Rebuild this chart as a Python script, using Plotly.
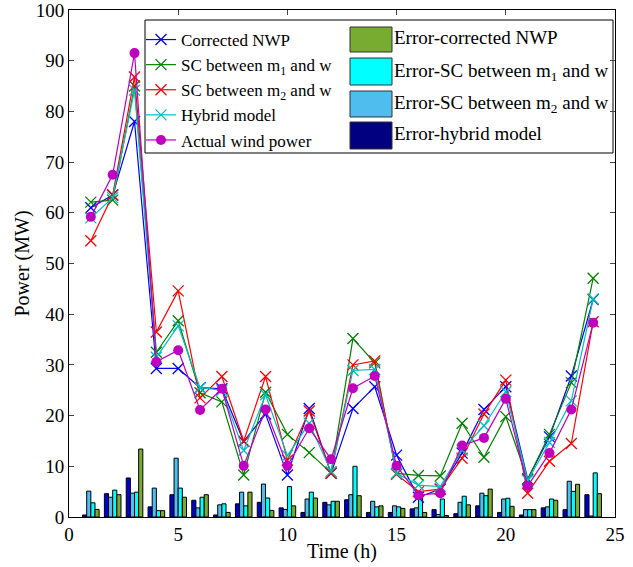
import plotly.graph_objects as go

# Hourly time axis (h)
hours = list(range(1, 25))

# Forecast curves (MW)
corrected_nwp = [61.0, 63.5, 78.0, 29.3, 29.3, 25.5, 25.3, 14.9, 20.3, 8.3, 21.4, 8.6,
                 21.4, 25.7, 12.2, 3.9, 5.5, 12.6, 21.2, 25.7, 7.5, 15.8, 27.8, 42.9]
sc_m1 = [62.1, 62.5, 85.0, 32.5, 38.7, 24.5, 22.7, 8.3, 24.6, 16.3, 12.7, 8.7,
         35.2, 30.4, 8.6, 8.2, 8.1, 18.5, 11.8, 19.8, 7.4, 16.3, 26.5, 47.1]
sc_m2 = [54.5, 63.5, 86.8, 36.5, 44.6, 23.5, 27.7, 15.0, 27.7, 11.2, 20.9, 8.6,
         30.0, 30.8, 8.4, 5.0, 5.5, 11.6, 20.3, 27.0, 4.7, 11.0, 14.5, 38.5]
hybrid = [59.0, 63.0, 84.2, 31.5, 37.7, 25.5, 25.0, 13.1, 24.1, 12.1, 18.5, 9.0,
          28.9, 29.1, 8.6, 6.3, 6.0, 13.2, 18.0, 24.7, 7.2, 14.7, 22.9, 43.0]
actual = [59.2, 67.5, 91.5, 30.6, 32.9, 21.1, 25.3, 10.1, 21.2, 10.1, 17.5, 11.4,
          25.4, 27.8, 10.1, 4.3, 4.7, 14.1, 15.6, 23.3, 6.1, 12.6, 21.2, 38.3]

# Absolute errors (MW)
err_hybrid = [0.4, 4.6, 7.7, 2.0, 4.4, 3.3, 0.4, 2.6, 2.9, 1.8, 0.9, 2.9,
              3.4, 0.9, 0.9, 1.6, 1.45, 0.65, 2.2, 0.9, 0.4, 1.8, 1.45, 4.4]
err_sc_m2 = [5.1, 3.9, 4.7, 5.7, 11.6, 1.8, 2.4, 4.9, 6.5, 1.5, 3.55, 2.4,
             4.4, 3.1, 2.2, 1.8, 0.5, 2.9, 4.7, 3.55, 1.45, 2.0, 7.05, 0.2]
err_sc_m1 = [2.8, 5.3, 4.9, 1.25, 5.7, 3.9, 2.6, 2.2, 3.75, 6.0, 4.9, 3.1,
             10.0, 2.0, 2.0, 3.75, 3.55, 4.1, 4.2, 3.7, 1.45, 3.55, 5.05, 8.7]
err_corrected = [1.5, 4.4, 13.4, 1.25, 3.9, 4.4, 0.9, 4.9, 1.3, 2.2, 3.75, 3.1,
                 4.2, 2.2, 1.7, 0.9, 0.3, 2.4, 5.5, 2.1, 1.45, 3.3, 6.45, 4.6]

FONT = "Liberation Serif"

fig = go.Figure()

# Grouped error bars (left to right inside each hour)
bar_series = [
    ("Error-hybrid model", err_hybrid, "#0000c8"),
    ("Error-SC between m<sub>2</sub> and w", err_sc_m2, "#4dbeee"),
    ("Error-SC between m<sub>1</sub> and w", err_sc_m1, "#00ffff"),
    ("Error-corrected NWP", err_corrected, "#77ac30"),
]
for name, vals, col in bar_series:
    fig.add_trace(go.Bar(
        x=hours, y=vals, name=name, marker=dict(color=col, line=dict(color="black", width=1)),
        showlegend=False,
    ))

# Forecast / actual curves
line_series = [
    ("Corrected NWP", corrected_nwp, "#0000ff", "x-thin"),
    ("SC between m<sub>1</sub> and w", sc_m1, "#008000", "x-thin"),
    ("SC between m<sub>2</sub> and w", sc_m2, "#ff0000", "x-thin"),
    ("Hybrid model", hybrid, "#00bfbf", "x-thin"),
]
for name, vals, col, sym in line_series:
    fig.add_trace(go.Scatter(
        x=hours, y=vals, name=name, mode="lines+markers",
        line=dict(color=col, width=1.2),
        marker=dict(symbol=sym, size=11, line=dict(color=col, width=1.3)),
    ))
fig.add_trace(go.Scatter(
    x=hours, y=actual, name="Actual wind power", mode="lines+markers",
    line=dict(color="#bf00bf", width=1.2),
    marker=dict(symbol="circle", size=10, color="#bf00bf"),
))

# Legend frame and the error-bar half of the legend
W, H = 546.0, 507.0
def px_x(p):
    return (p - 69) / W
def px_y(p):
    return (517 - p) / H

shapes = [dict(type="rect", xref="paper", yref="paper",
               x0=px_x(145), x1=px_x(613), y0=px_y(153), y1=px_y(20),
               line=dict(color="black", width=1), fillcolor="white", layer="below")]
annotations = []
legend_bars = [
    ("Error-corrected NWP", "#77ac30", 27, 52, 38),
    ("Error-SC between m<sub>1</sub> and w", "#00ffff", 58, 85, 72),
    ("Error-SC between m<sub>2</sub> and w", "#4dbeee", 91, 117, 104),
    ("Error-hybrid model", "#000080", 122, 149, 133),
]
for text, col, top, bot, mid in legend_bars:
    shapes.append(dict(type="rect", xref="paper", yref="paper",
                       x0=px_x(350), x1=px_x(392), y0=px_y(bot), y1=px_y(top),
                       line=dict(color="#333333", width=1), fillcolor=col))
    annotations.append(dict(xref="paper", yref="paper", x=px_x(392), y=px_y(mid),
                            xanchor="left", yanchor="middle", text=text, showarrow=False,
                            font=dict(family=FONT, size=19, color="black")))

fig.update_layout(
    width=633, height=567,
    margin=dict(l=69, r=18, t=10, b=50, autoexpand=False),
    paper_bgcolor="white", plot_bgcolor="white",
    font=dict(family=FONT, size=19, color="black"),
    barmode="group", bargap=0.24, bargroupgap=0,
    shapes=shapes, annotations=annotations,
    legend=dict(x=px_x(141), y=px_y(22), xanchor="left", yanchor="top",
                bgcolor="rgba(0,0,0,0)", borderwidth=0,
                font=dict(family=FONT, size=17), itemwidth=30, tracegroupgap=0),
    xaxis=dict(range=[0, 25], dtick=5, tick0=0, ticks="inside", ticklen=5,
               showline=True, linecolor="black", linewidth=1, mirror="ticks",
               showgrid=False, zeroline=False, automargin=False,
               ticklabeloverflow="allow",
               tickfont=dict(family=FONT, size=19),
               title=dict(text="Time (h)", font=dict(family=FONT, size=20), standoff=0)),
    yaxis=dict(range=[0, 100], dtick=10, tick0=0, ticks="inside", ticklen=5,
               showline=True, linecolor="black", linewidth=1, mirror="ticks",
               showgrid=False, zeroline=False, automargin=False,
               ticklabeloverflow="allow",
               tickfont=dict(family=FONT, size=19),
               title=dict(text="Power (MW)", font=dict(family=FONT, size=20), standoff=0)),
)

fig.write_html("out.html")
